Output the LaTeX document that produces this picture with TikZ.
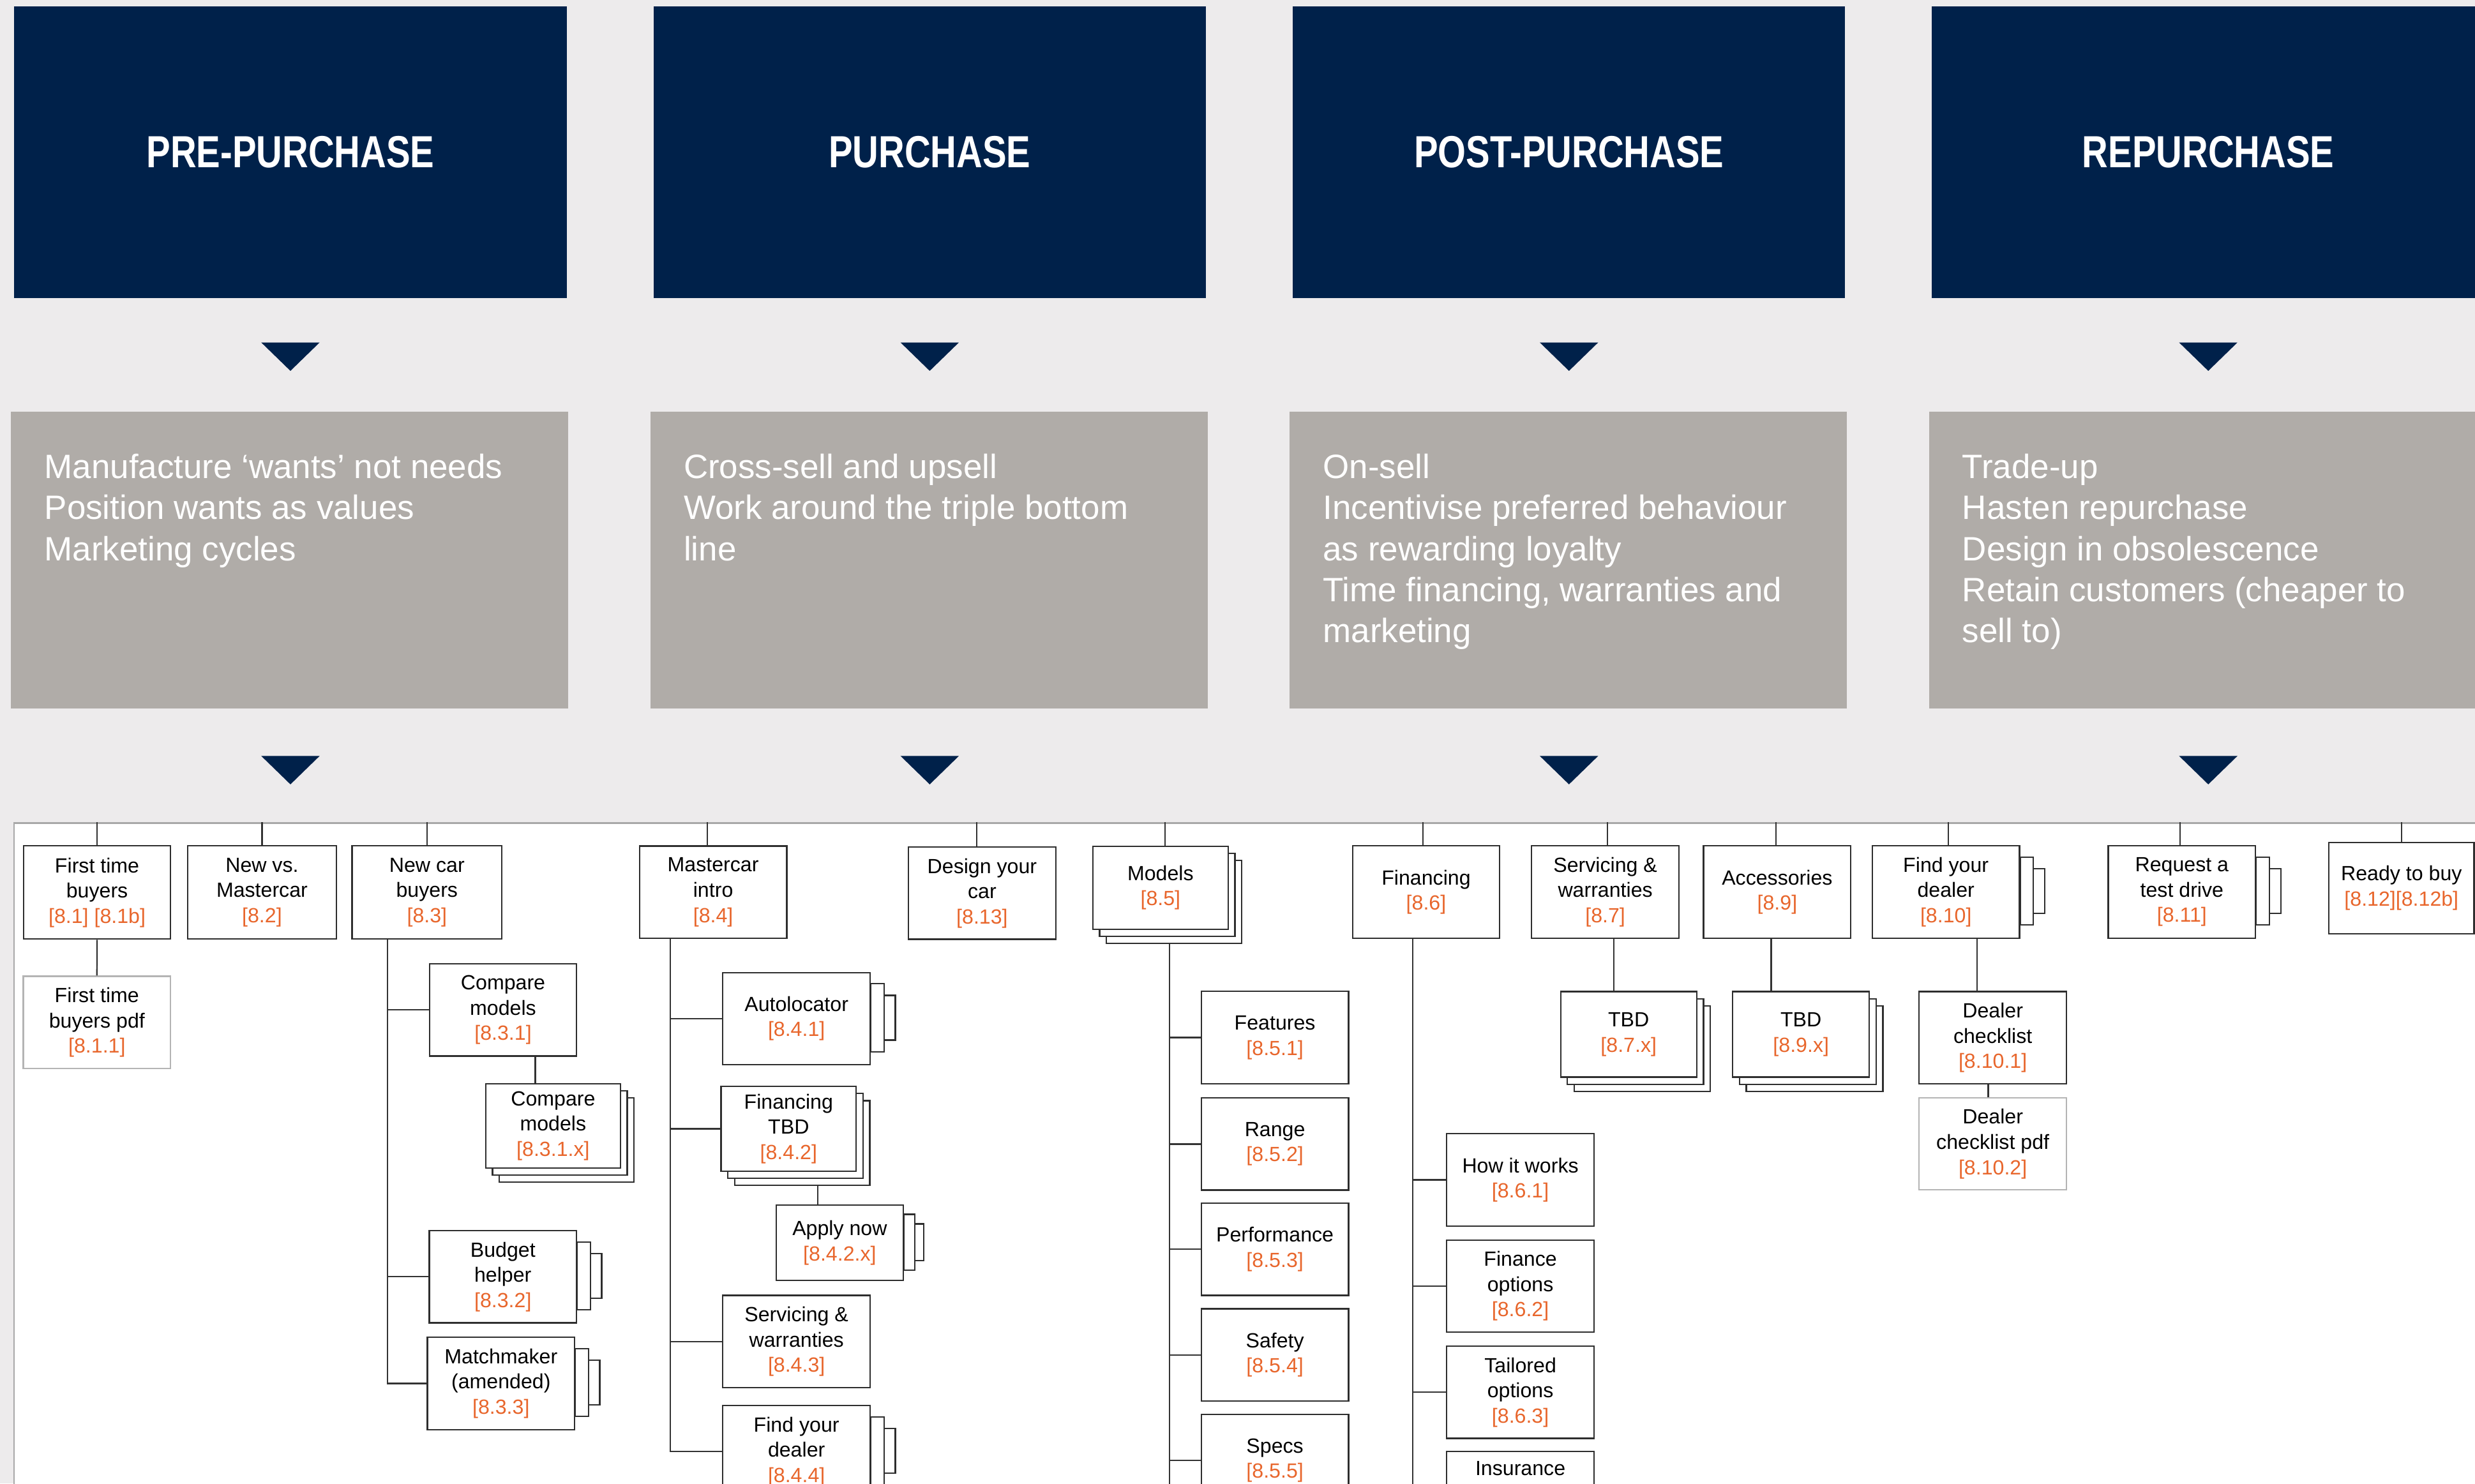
\documentclass[tikz,border=0pt]{standalone}
\usepackage{fontspec}
\usetikzlibrary{shadows,calc}
\newfontfamily\boxfont{Liberation Sans}
\newfontfamily\headfont{Liberation Sans}[FakeStretch=0.8]
\newfontfamily\grayfont{Liberation Sans}
\definecolor{bgc}{HTML}{EDEBEC}
\definecolor{navy}{HTML}{00214A}
\definecolor{grayb}{HTML}{B0ACA8}
\definecolor{boxc}{HTML}{2E2E2E}
\definecolor{lightc}{HTML}{B4B4B4}
\definecolor{linec}{HTML}{333333}
\definecolor{refc}{HTML}{E8662C}
\definecolor{panelc}{HTML}{A8A8A8}
\newcommand\reftxt[1]{\textcolor{refc}{#1}}
\newcommand\sidetabs[2]{%
  \draw[tabst] ([yshift={-15pt*#2}]#1.north east) rectangle ([xshift={15.5pt*#2},yshift={16pt*#2}]#1.south east);
  \draw[tabst] ([yshift={-7.6pt*#2}]#1.north east) rectangle ([xshift={8.3pt*#2},yshift={8.7pt*#2}]#1.south east);
}
\begin{document}
\begin{tikzpicture}[x=1pt,y=-1pt,
  head/.style={fill=navy, minimum width=350pt, minimum height=185pt, inner sep=0pt, text=white,
    font={\headfont\bfseries\fontsize{28.5}{34}\selectfont}},
  graybox/.style={fill=grayb, minimum width=353pt, minimum height=188pt, inner sep=0pt},
  graytxt/.style={anchor=north west, inner sep=0pt, align=left, text=white,
    font={\grayfont\fontsize{21.4}{25.9}\selectfont}},
  tbox/.style={draw=boxc, fill=white, line width=0.9pt, inner sep=0pt, align=center,
    font={\boxfont\fontsize{13}{16}\selectfont}, text=black, minimum width=93.3pt, minimum height=58.4pt},
  lbox/.style={tbox, draw=lightc},
  stack/.style={
    copy shadow={shadow xshift=8.6pt, shadow yshift=-9pt, draw=boxc, fill=white, line width=0.9pt},
    copy shadow={shadow xshift=4.3pt, shadow yshift=-4.5pt, draw=boxc, fill=white, line width=0.9pt}},
  conn/.style={draw=linec, line width=0.9pt},
  tabst/.style={draw=boxc, fill=white, line width=0.9pt}
]
\clip (0,0) rectangle (1568,940);
\fill[bgc] (0,0) rectangle (1568,940);

% headers
\node[head] (h1) at (184,96.5) {PRE-PURCHASE};
\node[head] (h2) at (589,96.5) {PURCHASE};
\node[head] (h3) at (994,96.5) {POST-PURCHASE};
\node[head] (h4) at (1399,96.5) {REPURCHASE};

% triangles
\foreach \cx in {184,589,994,1399}{
  \fill[navy] (\cx-18.5,217) -- (\cx+18.5,217) -- (\cx,235) -- cycle;
  \fill[navy] (\cx-18.5,479) -- (\cx+18.5,479) -- (\cx,497) -- cycle;
}

% grey boxes
\node[graybox] (g1) at (183.5,355) {};
\node[graybox] (g2) at (588.5,355) {};
\node[graybox] (g3) at (993.5,355) {};
\node[graybox] (g4) at (1398.5,355) {};
\node[graytxt] (g1t) at (28,287.1) {\rule{0pt}{16pt}Manufacture ‘wants’ not needs\\Position wants as values\\Marketing cycles};
\node[graytxt] (g2t) at (433,287.1) {\rule{0pt}{16pt}Cross-sell and upsell\\Work around the triple bottom\\line};
\node[graytxt] (g3t) at (838,287.1) {\rule{0pt}{16pt}On-sell\\Incentivise preferred behaviour\\as rewarding loyalty\\Time financing, warranties and\\marketing};
\node[graytxt] (g4t) at (1243,287.1) {\rule{0pt}{16pt}Trade-up\\Hasten repurchase\\Design in obsolescence\\Retain customers (cheaper to\\sell to)};

% white panel
\node[draw=panelc, line width=1pt, fill=white, anchor=north west, minimum width=1600pt,
  minimum height=450pt, inner sep=0pt] (panel) at (8.5,521) {};

% top level
\node[tbox, minimum width=93pt, minimum height=59pt] (n81) at (61.5,565.5) {First time\\buyers\\\reftxt{[8.1] [8.1b]}};
\node[tbox, minimum width=94pt, minimum height=59pt] (n82) at (166,565.5) {New vs.\\Mastercar\\\reftxt{[8.2]}};
\node[tbox, minimum width=95pt, minimum height=59pt] (n83) at (270.5,565.5) {New car\\buyers\\\reftxt{[8.3]}};
\node[tbox] (n84) at (451.8,565.3) {Mastercar\\intro\\\reftxt{[8.4]}};
\node[tbox] (n813) at (622.2,565.9) {Design your\\car\\\reftxt{[8.13]}};
\node[tbox, stack, minimum width=85.7pt, minimum height=52.7pt] (n85) at (735.2,562.5) {Models\\\reftxt{[8.5]}};
\node[tbox] (n86) at (903.5,565.2) {Financing\\\reftxt{[8.6]}};
\node[tbox] (n87) at (1017,565.2) {Servicing \&\\warranties\\\reftxt{[8.7]}};
\node[tbox] (n89) at (1125.9,565.2) {Accessories\\\reftxt{[8.9]}};
\node[tbox] (n810) at (1232.8,565.2) {Find your\\dealer\\\reftxt{[8.10]}};
\node[tbox] (n811) at (1382.3,565.2) {Request a\\test drive\\\reftxt{[8.11]}};
\node[tbox, minimum width=92pt, minimum height=58pt] (n812) at (1521.4,562.7) {Ready to buy\\\reftxt{[8.12][8.12b]}};

% children
\node[lbox] (p811) at (61.4,647.8) {First time\\buyers pdf\\\reftxt{[8.1.1]}};
\node[tbox] (c831) at (318.7,639.9) {Compare\\models\\\reftxt{[8.3.1]}};
\node[tbox, stack, minimum width=85.3pt, minimum height=53.4pt] (c831x) at (350.4,713.3) {Compare\\models\\\reftxt{[8.3.1.x]}};
\node[tbox] (c832) at (318.6,809) {Budget\\helper\\\reftxt{[8.3.2]}};
\node[tbox] (c833) at (317.4,876.6) {Matchmaker\\(amended)\\\reftxt{[8.3.3]}};
\node[tbox] (c841) at (504.6,645.4) {Autolocator\\\reftxt{[8.4.1]}};
\node[tbox, stack, minimum width=85.6pt, minimum height=53.6pt] (c842) at (499.6,715.2) {Financing\\TBD\\\reftxt{[8.4.2]}};
\node[tbox, minimum width=80.4pt, minimum height=47.7pt] (c842x) at (532,787.5) {Apply now\\\reftxt{[8.4.2.x]}};
\node[tbox] (c843) at (504.6,850) {Servicing \&\\warranties\\\reftxt{[8.4.3]}};
\node[tbox] (c844) at (504.6,919.8) {Find your\\dealer\\\reftxt{[8.4.4]}};
\node[tbox] (c851) at (807.7,657.4) {Features\\\reftxt{[8.5.1]}};
\node[tbox] (c852) at (807.7,724.9) {Range\\\reftxt{[8.5.2]}};
\node[tbox] (c853) at (807.7,791.6) {Performance\\\reftxt{[8.5.3]}};
\node[tbox] (c854) at (807.7,858.5) {Safety\\\reftxt{[8.5.4]}};
\node[tbox] (c855) at (807.7,925.3) {Specs\\\reftxt{[8.5.5]}};
\node[tbox] (c861) at (963.2,747.6) {How it works\\\reftxt{[8.6.1]}};
\node[tbox] (c862) at (963.2,814.9) {Finance\\options\\\reftxt{[8.6.2]}};
\node[tbox] (c863) at (963.2,882.2) {Tailored\\options\\\reftxt{[8.6.3]}};
\node[tbox] (c864) at (963.2,948.8) {Insurance\\\strut\\\strut};
\node[tbox, stack, minimum width=86.2pt, minimum height=54.2pt] (t87x) at (1031.8,655.4) {TBD\\\reftxt{[8.7.x]}};
\node[tbox, stack, minimum width=86.5pt, minimum height=54.2pt] (t89x) at (1141,655.4) {TBD\\\reftxt{[8.9.x]}};
\node[tbox] (dc) at (1262.5,657.5) {Dealer\\checklist\\\reftxt{[8.10.1]}};
\node[lbox] (dcp) at (1262.5,724.8) {Dealer\\checklist pdf\\\reftxt{[8.10.2]}};

% side tabs
\sidetabs{c832}{1}
\sidetabs{c833}{1}
\sidetabs{c841}{1}
\sidetabs{c842x}{0.82}
\sidetabs{c844}{1}
\sidetabs{n810}{1}
\sidetabs{n811}{1}

% connectors: panel to top level
\foreach \n/\dx in {n81/0,n82/0,n83/0,n84/-3.8,n813/-3.4,n85/2.8,n86/-2,n87/1.2,n89/-0.9,n810/1.5,n811/-1.3,n812/0}{
  \coordinate (u) at ([xshift=\dx pt]\n.north);
  \draw[conn] (u) -- (u |- panel.north);
}
\draw[conn] (n81.south) -- (p811.north);

\coordinate (tr83) at ([xshift=23pt]n83.south west);
\draw[conn] (tr83) |- (c831.west);
\draw[conn] (tr83) |- (c832.west);
\draw[conn] (tr83) |- (c833.west);
\coordinate (a831) at ([xshift=67.5pt]c831.south west);
\draw[conn] (a831) -- (a831 |- c831x.north);

\coordinate (tr84) at ([xshift=20pt]n84.south west);
\draw[conn] (tr84) |- (c841.west);
\draw[conn] (tr84) |- (c842.west);
\draw[conn] (tr84) |- (c843.west);
\draw[conn] (tr84) |- (c844.west);
\coordinate (c842b) at ([yshift=-9pt]c842.south);
\coordinate (a842x) at ([xshift=26.7pt]c842x.north west);
\draw[conn] (a842x) -- (a842x |- c842b);

\coordinate (tr85) at ([xshift=49pt,yshift=-9pt]n85.south west);
\draw[conn] (tr85) |- (c851.west);
\draw[conn] (tr85) |- (c852.west);
\draw[conn] (tr85) |- (c853.west);
\draw[conn] (tr85) |- (c854.west);
\draw[conn] (tr85) |- (c855.west);
\draw[conn] (tr85) -- (tr85 |- panel.south);

\coordinate (tr86) at ([xshift=38.5pt]n86.south west);
\draw[conn] (tr86) |- (c861.west);
\draw[conn] (tr86) |- (c862.west);
\draw[conn] (tr86) |- (c863.west);
\draw[conn] (tr86) |- (c864.west);

\coordinate (a87) at ([xshift=52.5pt]n87.south west);
\draw[conn] (a87) -- (a87 |- t87x.north);
\coordinate (a89) at ([xshift=43.3pt]n89.south west);
\draw[conn] (a89) -- (a89 |- t89x.north);
\coordinate (a810) at ([xshift=66.8pt]n810.south west);
\draw[conn] (a810) -- (a810 |- dc.north);
\coordinate (adc) at ([xshift=44.2pt]dc.south west);
\draw[conn] (adc) -- (adc |- dcp.north);
\end{tikzpicture}
\end{document}
